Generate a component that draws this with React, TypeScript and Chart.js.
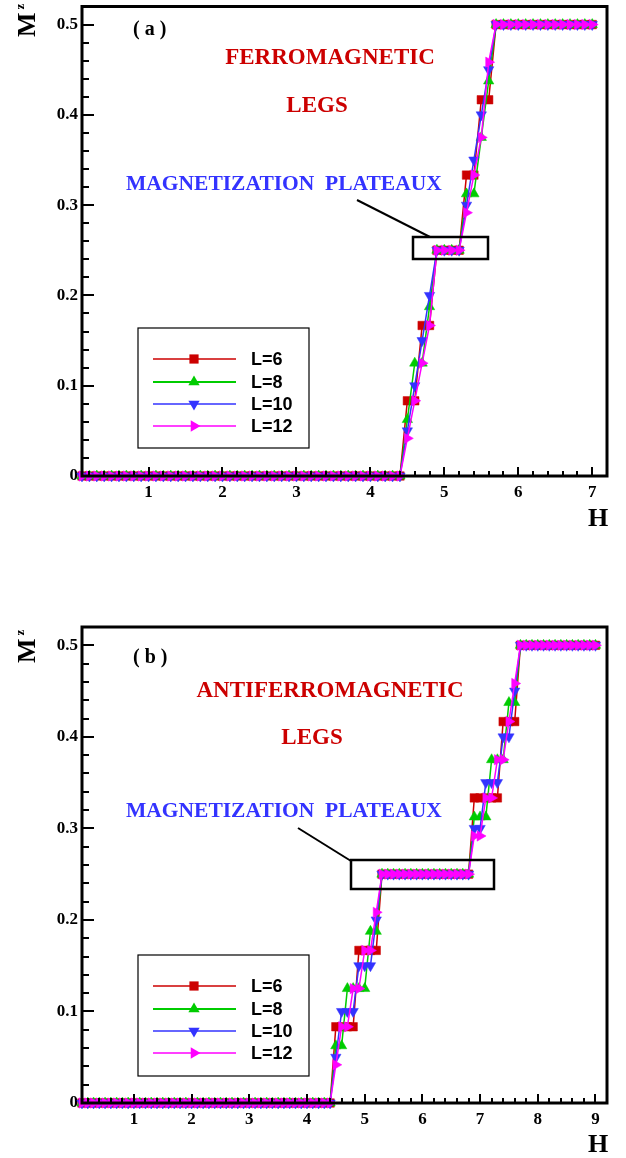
import React, { useEffect, useRef } from "react";
import { Chart, registerables } from "chart.js";

Chart.register(...registerables);

// ---------------- DATA ----------------
// magnetic field grid, panel (a)
const hA = [
  0.1, 0.2, 0.3, 0.4, 0.5, 0.6, 0.7, 0.8, 0.9, 1.0,
  1.1, 1.2, 1.3, 1.4, 1.5, 1.6, 1.7, 1.8, 1.9, 2.0,
  2.1, 2.2, 2.3, 2.4, 2.5, 2.6, 2.7, 2.8, 2.9, 3.0,
  3.1, 3.2, 3.3, 3.4, 3.5, 3.6, 3.7, 3.8, 3.9, 4.0,
  4.1, 4.2, 4.3, 4.4, 4.5, 4.6, 4.7, 4.8, 4.9, 5.0,
  5.1, 5.2, 5.3, 5.4, 5.5, 5.6, 5.7, 5.8, 5.9, 6.0,
  6.1, 6.2, 6.3, 6.4, 6.5, 6.6, 6.7, 6.8, 6.9, 7.0,
];
// magnetic field grid, panel (b)
const hB = [
  0.1, 0.2, 0.3, 0.4, 0.5, 0.6, 0.7, 0.8, 0.9, 1.0,
  1.1, 1.2, 1.3, 1.4, 1.5, 1.6, 1.7, 1.8, 1.9, 2.0,
  2.1, 2.2, 2.3, 2.4, 2.5, 2.6, 2.7, 2.8, 2.9, 3.0,
  3.1, 3.2, 3.3, 3.4, 3.5, 3.6, 3.7, 3.8, 3.9, 4.0,
  4.1, 4.2, 4.3, 4.4, 4.5, 4.6, 4.7, 4.8, 4.9, 5.0,
  5.1, 5.2, 5.3, 5.4, 5.5, 5.6, 5.7, 5.8, 5.9, 6.0,
  6.1, 6.2, 6.3, 6.4, 6.5, 6.6, 6.7, 6.8, 6.9, 7.0,
  7.1, 7.2, 7.3, 7.4, 7.5, 7.6, 7.7, 7.8, 7.9, 8.0,
  8.1, 8.2, 8.3, 8.4, 8.5, 8.6, 8.7, 8.8, 8.9, 9.0,
];

// M^z = 0 for H = 0.1 ... 4.4 (44 samples)
const offRun = [
  0, 0, 0, 0, 0, 0, 0, 0, 0, 0,
  0, 0, 0, 0, 0, 0, 0, 0, 0, 0,
  0, 0, 0, 0, 0, 0, 0, 0, 0, 0,
  0, 0, 0, 0, 0, 0, 0, 0, 0, 0,
  0, 0, 0, 0,
];
// saturation M^z = 0.5 (14 samples)
const satRun = [0.5, 0.5, 0.5, 0.5, 0.5, 0.5, 0.5, 0.5, 0.5, 0.5, 0.5, 0.5, 0.5, 0.5];
// quarter plateau, panel (b): H = 5.3 ... 6.8 (16 samples)
const quarterRunB = [0.25, 0.25, 0.25, 0.25, 0.25, 0.25, 0.25, 0.25, 0.25, 0.25, 0.25, 0.25, 0.25, 0.25, 0.25, 0.25];

// Panel (a) ferromagnetic legs, H = 4.5 ... 5.6 then saturation
const m6A = [...offRun, 0.0833, 0.0833, 0.1667, 0.1667, 0.25, 0.25, 0.25, 0.25, 0.3333, 0.3333, 0.4167, 0.4167, ...satRun];
const m8A = [...offRun, 0.0625, 0.125, 0.125, 0.1875, 0.25, 0.25, 0.25, 0.25, 0.3125, 0.3125, 0.375, 0.4375, ...satRun];
const m10A = [...offRun, 0.05, 0.1, 0.15, 0.2, 0.25, 0.25, 0.25, 0.25, 0.3, 0.35, 0.4, 0.45, ...satRun];
const m12A = [...offRun, 0.0417, 0.0833, 0.125, 0.1667, 0.25, 0.25, 0.25, 0.25, 0.2917, 0.3333, 0.375, 0.4583, ...satRun];

// Panel (b) antiferromagnetic legs
const m6B = [...offRun,
  0.0833, 0.0833, 0.0833, 0.0833, 0.1667, 0.1667, 0.1667, 0.1667,
  ...quarterRunB,
  0.3333, 0.3333, 0.3333, 0.3333, 0.3333, 0.4167, 0.4167, 0.4167,
  ...satRun];
const m8B = [...offRun,
  0.0625, 0.0625, 0.125, 0.125, 0.125, 0.125, 0.1875, 0.1875,
  ...quarterRunB,
  0.3125, 0.3125, 0.3125, 0.375, 0.375, 0.375, 0.4375, 0.4375,
  ...satRun];
const m10B = [...offRun,
  0.05, 0.1, 0.1, 0.1, 0.15, 0.15, 0.15, 0.2,
  ...quarterRunB,
  0.3, 0.3, 0.35, 0.35, 0.35, 0.4, 0.4, 0.45,
  ...satRun];
const m12B = [...offRun,
  0.0417, 0.0833, 0.0833, 0.125, 0.125, 0.1667, 0.1667, 0.2083,
  ...quarterRunB,
  0.2917, 0.2917, 0.3333, 0.3333, 0.375, 0.375, 0.4167, 0.4583,
  ...satRun];

const seriesLabels = ["L=6", "L=8", "L=10", "L=12"];
const xTicksA = [1, 2, 3, 4, 5, 6, 7];
const xTicksB = [1, 2, 3, 4, 5, 6, 7, 8, 9];
const yTicks = [0, 0.1, 0.2, 0.3, 0.4, 0.5];
const yTickLabels = ["0", "0.1", "0.2", "0.3", "0.4", "0.5"];

// ---------------- STYLE ----------------
const SERIF = "'Liberation Serif', 'Times New Roman', serif";
const SANS = "'Liberation Sans', Arial, sans-serif";
const COLORS = ["#cc0000", "#00cc00", "#3333ff", "#ff00ff"];
const MARKERS = ["rect", "up", "down", "right"];
const ROT = { rect: 0, up: 0, down: 180, right: 90 } as any;
const CANVAS_W = 626;
const CANVAS_H = 579;

const panels = [
  {
    key: "a",
    canvasTop: 0,
    h: hA,
    series: [m6A, m8A, m10A, m12A],
    xMax: 7.2,
    xTicks: xTicksA,
    chartTop: 1,
    chartBottom: 476,
    label: "( a )",
    labelPos: [133, 35],
    title1: "FERROMAGNETIC",
    title1Pos: [330, 64],
    title2Pos: [317, 112],
    bluePos: [126, 190],
    pointer: [357, 200, 430, 237],
    box: [413, 237, 75, 22],
    legend: [138, 328, 171, 120],
    mBottom: 37,
    hBase: 526,
  },
  {
    key: "b",
    canvasTop: 579,
    h: hB,
    series: [m6B, m8B, m10B, m12B],
    xMax: 9.2,
    xTicks: xTicksB,
    chartTop: 627,
    chartBottom: 1103,
    label: "( b )",
    labelPos: [133, 663],
    title1: "ANTIFERROMAGNETIC",
    title1Pos: [330, 697],
    title2Pos: [312, 744],
    bluePos: [126, 817],
    pointer: [298, 828, 351, 861],
    box: [351, 860, 143, 29],
    legend: [138, 955, 171, 121],
    mBottom: 663,
    hBase: 1152,
  },
];

function drawMarker(ctx: CanvasRenderingContext2D, style: string, x: number, y: number, r: number, color: string) {
  ctx.fillStyle = color;
  ctx.beginPath();
  if (style === "rect") {
    const s = r * Math.SQRT1_2;
    ctx.rect(x - s, y - s, 2 * s, 2 * s);
  } else {
    let a = (ROT[style] * Math.PI) / 180;
    ctx.moveTo(x + Math.sin(a) * r, y - Math.cos(a) * r);
    a += (2 * Math.PI) / 3;
    ctx.lineTo(x + Math.sin(a) * r, y - Math.cos(a) * r);
    a += (2 * Math.PI) / 3;
    ctx.lineTo(x + Math.sin(a) * r, y - Math.cos(a) * r);
    ctx.closePath();
  }
  ctx.fill();
}

function makePlugin(p: any) {
  const oy = p.canvasTop;
  return {
    id: "deco" + p.key,
    afterDatasetsDraw(chart: any) {
      const { ctx, chartArea } = chart;
      const { left, top, right, bottom } = chartArea;
      const xs = chart.scales.x;
      const ys = chart.scales.y;
      ctx.save();
      ctx.strokeStyle = "#000";
      ctx.lineWidth = 2;
      ctx.beginPath();
      for (let k = 1; k * 0.2 <= p.xMax + 1e-9; k++) {
        const v = k * 0.2;
        const major = Math.abs(v - Math.round(v)) < 1e-6;
        const px = Math.round(xs.getPixelForValue(v));
        ctx.moveTo(px, bottom);
        ctx.lineTo(px, bottom - (major ? 9 : 5));
      }
      for (let k = 1; k * 0.02 <= 0.52 + 1e-9; k++) {
        const v = k * 0.02;
        const major = k % 5 === 0;
        const py = Math.round(ys.getPixelForValue(v));
        ctx.moveTo(left, py);
        ctx.lineTo(left + (major ? 12 : 7), py);
      }
      ctx.stroke();
      ctx.lineWidth = 3;
      ctx.strokeRect(left, top, right - left, bottom - top);
      ctx.restore();
    },
    afterDraw(chart: any) {
      const ctx: CanvasRenderingContext2D = chart.ctx;
      ctx.save();
      // panel label
      ctx.fillStyle = "#000";
      ctx.textBaseline = "alphabetic";
      ctx.textAlign = "left";
      ctx.font = `bold 20px ${SERIF}`;
      ctx.fillText(p.label, p.labelPos[0], p.labelPos[1] - oy);
      // red titles
      ctx.fillStyle = "#cc0000";
      ctx.textAlign = "center";
      ctx.font = `bold 23px ${SERIF}`;
      ctx.fillText(p.title1, p.title1Pos[0], p.title1Pos[1] - oy);
      ctx.fillText("LEGS", p.title2Pos[0], p.title2Pos[1] - oy);
      // blue label
      ctx.fillStyle = "#3333ff";
      ctx.textAlign = "left";
      ctx.font = `bold 21.5px ${SERIF}`;
      ctx.fillText("MAGNETIZATION  PLATEAUX", p.bluePos[0], p.bluePos[1] - oy);
      // pointer line and box
      ctx.strokeStyle = "#000";
      ctx.lineWidth = 2;
      ctx.beginPath();
      ctx.moveTo(p.pointer[0], p.pointer[1] - oy);
      ctx.lineTo(p.pointer[2], p.pointer[3] - oy);
      ctx.stroke();
      ctx.lineWidth = 2.5;
      ctx.strokeRect(p.box[0], p.box[1] - oy, p.box[2], p.box[3]);
      // legend
      const [lx, ly, lw, lh] = p.legend;
      ctx.fillStyle = "#fff";
      ctx.fillRect(lx, ly - oy, lw, lh);
      ctx.lineWidth = 1.2;
      ctx.strokeStyle = "#000";
      ctx.strokeRect(lx, ly - oy, lw, lh);
      const rows = [31, 54, 76, 98];
      for (let i = 0; i < 4; i++) {
        const ry = ly - oy + rows[i];
        ctx.strokeStyle = COLORS[i];
        ctx.lineWidth = i === 1 ? 2 : 1.5;
        ctx.beginPath();
        ctx.moveTo(lx + 15, ry);
        ctx.lineTo(lx + 98, ry);
        ctx.stroke();
        drawMarker(ctx, MARKERS[i], lx + 56, ry, 6.5, COLORS[i]);
        ctx.fillStyle = "#000";
        ctx.font = `bold 18px ${SANS}`;
        ctx.textAlign = "left";
        ctx.textBaseline = "middle";
        ctx.fillText(seriesLabels[i], lx + 113, ry + 1);
      }
      // axis titles
      ctx.fillStyle = "#000";
      ctx.textBaseline = "alphabetic";
      ctx.textAlign = "left";
      ctx.save();
      ctx.translate(35, p.mBottom - oy);
      ctx.rotate(-Math.PI / 2);
      ctx.font = `bold 26px ${SERIF}`;
      ctx.fillText("M", 0, 0);
      const mw = ctx.measureText("M").width;
      ctx.font = `bold 13px ${SERIF}`;
      ctx.fillText("z", mw + 3, -11);
      ctx.restore();
      ctx.font = `bold 26px ${SERIF}`;
      ctx.fillText("H", 588, p.hBase - oy);
      ctx.restore();
    },
  };
}

function Panel({ p }: { p: any }) {
  const ref = useRef<HTMLCanvasElement | null>(null);
  useEffect(() => {
    if (!ref.current) return;
    const datasets = p.series.map((vals: number[], i: number) => ({
      label: seriesLabels[i],
      data: p.h.map((h: number, j: number) => ({ x: h, y: vals[j] })),
      borderColor: COLORS[i],
      backgroundColor: COLORS[i],
      borderWidth: 1.5,
      pointStyle: MARKERS[i] === "rect" ? "rect" : "triangle",
      pointRotation: ROT[MARKERS[i]],
      pointRadius: 6,
      pointBorderWidth: 0.5,
      pointBackgroundColor: COLORS[i],
      pointBorderColor: COLORS[i],
      tension: 0,
      clip: false,
      order: 3 - i,
    }));
    const chart = new Chart(ref.current, {
      type: "line",
      data: { datasets },
      plugins: [makePlugin(p)],
      options: {
        animation: false,
        responsive: false,
        maintainAspectRatio: false,
        events: [],
        layout: { padding: { top: p.chartTop - p.canvasTop, right: CANVAS_W - 607, left: 0, bottom: 0 } },
        plugins: { legend: { display: false }, tooltip: { enabled: false } },
        scales: {
          x: {
            type: "linear",
            min: 0.1,
            max: p.xMax,
            grid: { display: false, drawTicks: false },
            border: { display: false },
            ticks: {
              color: "#000",
              font: { family: SERIF, size: 17, weight: "bold" },
              padding: 6,
              maxRotation: 0,
              autoSkip: false,
              callback: (v: any) => String(v),
            },
            afterBuildTicks: (s: any) => {
              s.ticks = p.xTicks.map((v: number) => ({ value: v }));
            },
            afterFit: (s: any) => {
              s.height = CANVAS_H - (p.chartBottom - p.canvasTop);
              s.paddingLeft = 0;
              s.paddingRight = 0;
            },
          },
          y: {
            type: "linear",
            min: 0,
            max: 0.52,
            grid: { display: false, drawTicks: false },
            border: { display: false },
            ticks: {
              color: "#000",
              font: { family: SERIF, size: 17, weight: "bold" },
              padding: 4,
              autoSkip: false,
              callback: (_v: any, i: number) => yTickLabels[i],
            },
            afterBuildTicks: (s: any) => {
              s.ticks = yTicks.map((v) => ({ value: v }));
            },
            afterFit: (s: any) => {
              s.width = 82;
              s.paddingTop = 0;
              s.paddingBottom = 0;
            },
          },
        },
      } as any,
    });
    return () => chart.destroy();
  }, [p]);
  return (
    <canvas
      ref={ref}
      width={CANVAS_W}
      height={CANVAS_H}
      style={{ position: "absolute", left: 0, top: p.canvasTop, width: CANVAS_W, height: CANVAS_H }}
    />
  );
}

export default function App() {
  return (
    <div style={{ position: "absolute", left: 0, top: 0, width: CANVAS_W, height: 1158, background: "#fff" }}>
      {panels.map((p) => (
        <Panel key={p.key} p={p} />
      ))}
    </div>
  );
}
